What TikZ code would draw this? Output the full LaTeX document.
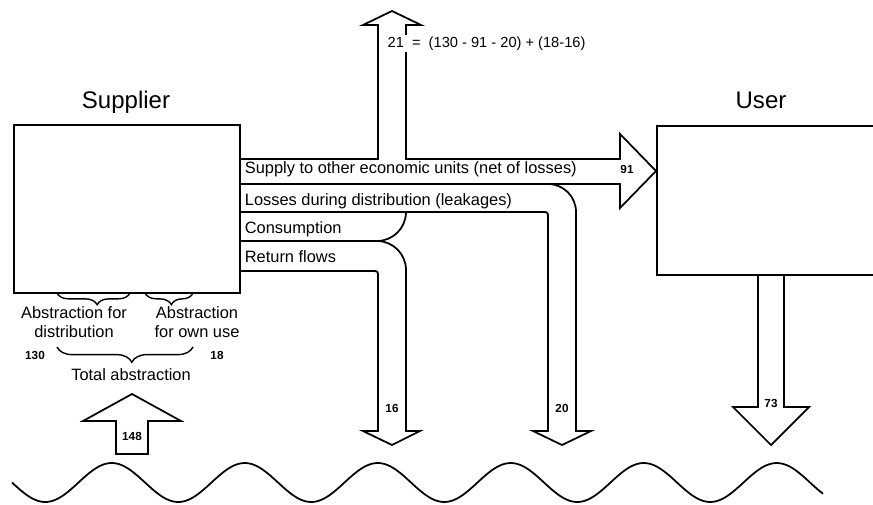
\documentclass[tikz,border=0pt]{standalone}
\usepackage{fontspec}
\setmainfont{Liberation Sans}
\usetikzlibrary{decorations.pathreplacing}

\begin{document}
\begin{tikzpicture}[x=0.03cm,y=-0.03cm,line width=1.5pt,
    flowtxt/.style={anchor=base west,inner sep=0pt,font=\fontsize{14}{16.2}\selectfont},
    qty/.style={inner sep=1pt,font=\fontsize{10}{11}\selectfont\bfseries},
    title/.style={anchor=base,inner sep=0pt,font=\fontsize{20.5}{24}\selectfont},
    brc/.style={decorate,decoration={brace,mirror,aspect=0.55,amplitude=#1},line width=1.2pt}]
    \useasboundingbox (0,0) rectangle (873,504);
    \clip (0,0) rectangle (873,504);
    \node[draw,minimum width=6.78cm,minimum height=5.04cm] (supplier) at (127,209) {};
    \node[title] (suppliername) at (126,108) {Supplier};
    \node[draw,minimum width=6.9cm,minimum height=4.47cm,anchor=north west] (user) at (656,125) {};
    \node[title] (username) at (761,108) {User};
    \draw (240,159) -- (378,159) -- (378,25) -- (363,25) -- (392,11) -- (421,25) -- (406,25) -- (406,159)
      -- (620,159) -- (620,134) -- (656,171) -- (620,208) -- (620,184) -- (240,184);
    \draw (240,212) -- (545,212) .. controls (547,212) and (548,213) .. (548,215) -- (548,431) -- (533,431)
      -- (562,445) -- (591,431) -- (576,431) -- (576,212) .. controls (576,196.5) and (563.5,184) .. (548,184);
    \draw (406,212) .. controls (406,228) and (393,241) .. (377,241) -- (240,241);
    \draw (377,241) .. controls (393,241) and (406,254) .. (406,270) -- (406,431) -- (420,431) -- (392,445)
      -- (363,431) -- (378,431) -- (378,274) .. controls (378,272) and (377,271) .. (375,271) -- (240,271);
    \draw (758,274) -- (758,407) -- (733,407) -- (771,445) -- (809,407) -- (784,407) -- (784,274);
    \draw (116,454) -- (116,421) -- (83,421) -- (132,394) -- (181,421) -- (148,421) -- (148,454) -- cycle;
    \draw plot[domain=12:823,samples=160,smooth] (\x,{482.5+19.5*sin(2.7068*(\x-12))});
    \draw[brc=10pt] (57,293) -- (130,293);
    \draw[brc=10pt] (145,293) -- (193,293);
    \draw[brc=13pt] (57,347) -- (193,347);
    \node[flowtxt] (supplytxt) at (244,173) {Supply to other economic units (net of losses)};
    \node[flowtxt] (losstxt) at (244,205) {Losses during distribution (leakages)};
    \node[flowtxt] (constxt) at (244,233) {Consumption};
    \node[flowtxt] (returntxt) at (244,262) {Return flows};
    \node[flowtxt,fill=white,inner sep=1.5pt,font=\fontsize{12.5}{14}\selectfont] (balance) at (385,47)
      {21 \ = \ (130 - 91 - 20) + (18-16)};
    \node[flowtxt,anchor=north,align=center] (absdist) at (74,306) {Abstraction for\\distribution};
    \node[flowtxt,anchor=north,align=center] (absown) at (197,306) {Abstraction\\for own use};
    \node[flowtxt,anchor=base] (totalabs) at (131,380) {Total abstraction};
    \node[qty] (q91) at (627,169) {91};
    \node[qty] (q16) at (392,408) {16};
    \node[qty] (q20) at (562,408) {20};
    \node[qty] (q73) at (771,403) {73};
    \node[qty] (q148) at (132,436) {148};
    \node[qty] (q130) at (35,355) {130};
    \node[qty] (q18) at (217,355) {18};
\end{tikzpicture}
\end{document}
